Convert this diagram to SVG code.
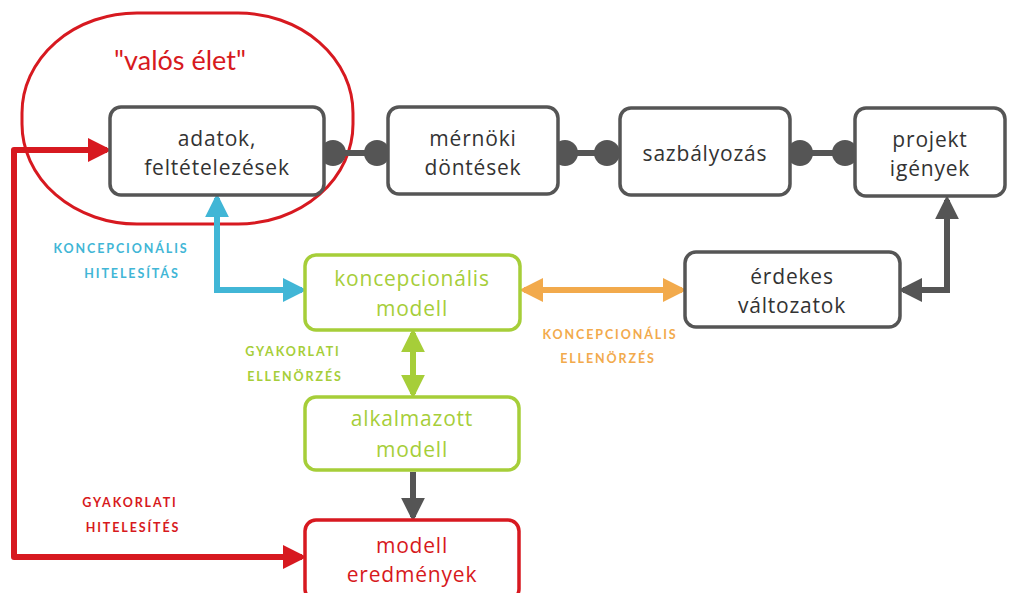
<svg xmlns="http://www.w3.org/2000/svg" width="1015" height="593" viewBox="0 0 1015 593">
<defs>
<style>
.n{fill:#fff;stroke:#555;stroke-width:3.5}
.g{fill:#fff;stroke:#a6ce39;stroke-width:3.5}
.r{fill:#fff;stroke:#d71920;stroke-width:3.5}
.t{font-family:"Open Sans",Lato,sans-serif;font-size:21px;letter-spacing:0.8px;text-anchor:middle;fill:#333}
.tg{fill:#a6ce39}
.tr{fill:#d71920}
.lb{font-family:Lato,"Open Sans",sans-serif;font-size:12.5px;font-weight:bold;letter-spacing:1.9px;text-anchor:middle}
.dot{fill:#555}
</style>
<marker id="aGray" viewBox="0 0 10 10" refX="8" refY="5" markerWidth="4" markerHeight="4" orient="auto-start-reverse" markerUnits="strokeWidth"><path d="M0,0 L10,5 L0,10 z" fill="#555"/></marker>
<marker id="aBlue" viewBox="0 0 10 10" refX="8" refY="5" markerWidth="4" markerHeight="4" orient="auto-start-reverse" markerUnits="strokeWidth"><path d="M0,0 L10,5 L0,10 z" fill="#41b6d6"/></marker>
<marker id="aOr" viewBox="0 0 10 10" refX="8" refY="5" markerWidth="4" markerHeight="4" orient="auto-start-reverse" markerUnits="strokeWidth"><path d="M0,0 L10,5 L0,10 z" fill="#f2aa4c"/></marker>
<marker id="aGr" viewBox="0 0 10 10" refX="8" refY="5" markerWidth="4" markerHeight="4" orient="auto-start-reverse" markerUnits="strokeWidth"><path d="M0,0 L10,5 L0,10 z" fill="#a6ce39"/></marker>
<marker id="aRed" viewBox="0 0 10 10" refX="8" refY="5" markerWidth="4" markerHeight="4" orient="auto-start-reverse" markerUnits="strokeWidth"><path d="M0,0 L10,5 L0,10 z" fill="#d71920"/></marker>
</defs>
<rect width="1015" height="593" fill="#fff"/>

<g id="real-life">
<rect x="22" y="13" width="331" height="211" rx="115" ry="100" fill="none" stroke="#d71920" stroke-width="3"/>
<text x="180" y="70" font-family="Lato,'Open Sans',sans-serif" font-size="27" text-anchor="middle" fill="#d71920">"valós élet"</text>
</g>

<g id="connectors" fill="none" stroke-width="6">
<line x1="333" y1="153" x2="377" y2="153" stroke="#555"/>
<line x1="565" y1="153" x2="607" y2="153" stroke="#555"/>
<line x1="800" y1="153" x2="845" y2="153" stroke="#555"/>
<circle class="dot" cx="333" cy="153" r="13" stroke="none"/>
<circle class="dot" cx="377" cy="153" r="13" stroke="none"/>
<circle class="dot" cx="565" cy="153" r="13" stroke="none"/>
<circle class="dot" cx="607" cy="153" r="13" stroke="none"/>
<circle class="dot" cx="800" cy="153" r="13" stroke="none"/>
<circle class="dot" cx="845" cy="153" r="13" stroke="none"/>
<polyline points="217,198 217,290 302,290" stroke="#41b6d6" marker-start="url(#aBlue)" marker-end="url(#aBlue)"/>
<line x1="524" y1="290" x2="682" y2="290" stroke="#f2aa4c" marker-start="url(#aOr)" marker-end="url(#aOr)"/>
<line x1="413" y1="333" x2="413" y2="394" stroke="#a6ce39" marker-start="url(#aGr)" marker-end="url(#aGr)"/>
<polyline points="903,290 947,290 947,200" stroke="#555" marker-start="url(#aGray)" marker-end="url(#aGray)"/>
<line x1="413" y1="472" x2="413" y2="517" stroke="#555" marker-end="url(#aGray)"/>
<polyline points="107,150 14,150 14,557 302,557" stroke="#d71920" stroke-linejoin="round" marker-start="url(#aRed)" marker-end="url(#aRed)"/>
</g>

<g id="adatok"><rect class="n" x="110" y="107" width="214" height="88" rx="11"/><text class="t" x="217" y="146">adatok,</text><text class="t" x="217" y="175">feltételezések</text></g>
<g id="mernoki"><rect class="n" x="388" y="107" width="170" height="87" rx="11"/><text class="t" x="473" y="146">mérnöki</text><text class="t" x="473" y="175">döntések</text></g>
<g id="szabalyozas"><rect class="n" x="620" y="108" width="170" height="87" rx="11"/><text class="t" x="705" y="161">sazbályozás</text></g>
<g id="projekt"><rect class="n" x="855" y="108" width="150" height="88" rx="11"/><text class="t" x="930" y="147">projekt</text><text class="t" x="930" y="176">igények</text></g>
<g id="erdekes"><rect class="n" x="685" y="252" width="215" height="75" rx="11"/><text class="t" x="792" y="284">érdekes</text><text class="t" x="792" y="313">változatok</text></g>
<g id="konc-modell"><rect class="g" x="305" y="255" width="215" height="75" rx="11"/><text class="t tg" x="412" y="286">koncepcionális</text><text class="t tg" x="412" y="316">modell</text></g>
<g id="alk-modell"><rect class="g" x="305" y="397" width="214" height="73" rx="11"/><text class="t tg" x="412" y="426">alkalmazott</text><text class="t tg" x="412" y="457">modell</text></g>
<g id="eredmenyek"><rect class="r" x="305" y="520" width="214" height="80" rx="11"/><text class="t tr" x="412" y="553">modell</text><text class="t tr" x="412" y="582">eredmények</text></g>

<g id="labels">
<text class="lb" x="121" y="253" fill="#41b6d6">KONCEPCIONÁLIS</text>
<text class="lb" x="132" y="278" fill="#41b6d6">HITELESÍTÁS</text>
<text class="lb" x="293" y="356" fill="#a6ce39">GYAKORLATI</text>
<text class="lb" x="295" y="381" fill="#a6ce39">ELLENÖRZÉS</text>
<text class="lb" x="610" y="339" fill="#f2aa4c">KONCEPCIONÁLIS</text>
<text class="lb" x="608" y="363" fill="#f2aa4c">ELLENÖRZÉS</text>
<text class="lb" x="130" y="507" fill="#d71920">GYAKORLATI</text>
<text class="lb" x="133" y="532" fill="#d71920">HITELESÍTÉS</text>
</g>
</svg>
